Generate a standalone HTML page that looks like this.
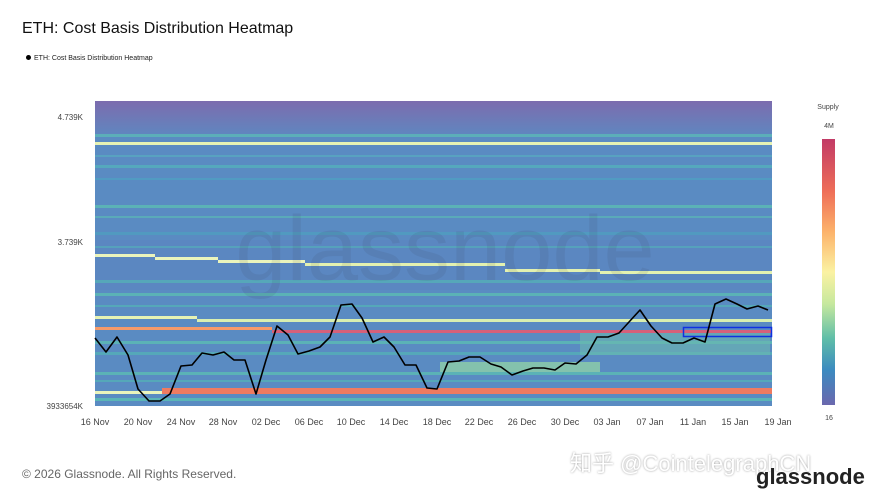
<!DOCTYPE html><html><head><meta charset="utf-8"><style>
body{margin:0;background:#fff;width:889px;height:500px;overflow:hidden;font-family:"Liberation Sans",sans-serif;position:relative}
.t{position:absolute;white-space:nowrap}
</style></head><body>
<div class="t" style="left:22px;top:20px;font-size:16px;color:#111">ETH: Cost Basis Distribution Heatmap</div>
<div class="t" style="left:26px;top:55px;font-size:7px;color:#222"><span style="display:inline-block;width:5px;height:5px;border-radius:50%;background:#000;margin-right:3px"></span>ETH: Cost Basis Distribution Heatmap</div>
<svg width="889" height="500" style="position:absolute;left:0;top:0">
<defs>
<linearGradient id="tg" x1="0" y1="0" x2="0" y2="1"><stop offset="0" stop-color="#7c6cae"/><stop offset="1" stop-color="#5f87c0"/></linearGradient>
<linearGradient id="cb" x1="0" y1="0" x2="0" y2="1"><stop offset="0" stop-color="#c23a66"/><stop offset="0.2" stop-color="#ef6f58"/><stop offset="0.35" stop-color="#fcb36b"/><stop offset="0.5" stop-color="#fbf2a2"/><stop offset="0.62" stop-color="#c6e89e"/><stop offset="0.75" stop-color="#5fbea8"/><stop offset="0.87" stop-color="#3c8ac0"/><stop offset="1" stop-color="#6b68ae"/></linearGradient>
</defs>
<rect x="95" y="101" width="677" height="305" fill="#5a8bc2"/>
<rect x="95" y="101" width="677" height="35" fill="url(#tg)"/>
<rect x="95" y="240" width="677" height="50" fill="#5b86c0" opacity="0.6"/>
<g opacity="0.8">
<rect x="95" y="134" width="677" height="3" fill="#5cb8b8"/>
<rect x="95" y="155" width="677" height="2" fill="#58a8c0"/>
<rect x="95" y="165" width="677" height="3" fill="#55b0bc"/>
<rect x="95" y="178" width="677" height="2" fill="#4fa0c2"/>
<rect x="95" y="205" width="677" height="3" fill="#5cbcb4"/>
<rect x="95" y="216" width="677" height="2" fill="#5ab2b8"/>
<rect x="95" y="232" width="677" height="3" fill="#4f9ec0"/>
<rect x="95" y="246" width="677" height="2" fill="#55a8bc"/>
<rect x="95" y="280" width="677" height="3" fill="#55b0b8"/>
<rect x="95" y="293" width="677" height="3" fill="#5cbcb4"/>
<rect x="95" y="305" width="677" height="2" fill="#55b0b8"/>
<rect x="95" y="341" width="677" height="3" fill="#5cbcb4"/>
<rect x="95" y="352" width="677" height="3" fill="#55b0b8"/>
<rect x="95" y="372" width="677" height="3" fill="#5cbcb4"/>
<rect x="95" y="380" width="677" height="2" fill="#55b0b8"/>
<rect x="95" y="398" width="677" height="3" fill="#5cc0b4"/>
<rect x="440" y="362" width="160" height="10" fill="#8fd0a8"/>
<rect x="580" y="330" width="190" height="25" fill="#70c4ac" opacity="0.6"/>
</g>
<rect x="95" y="142" width="677" height="3" fill="#e6f3b4"/>
<rect x="95" y="254" width="60" height="3" fill="#eaf4bc"/>
<rect x="155" y="257" width="63" height="3" fill="#eaf4bc"/>
<rect x="218" y="260" width="87" height="3" fill="#eaf4bc"/>
<rect x="305" y="263" width="200" height="3" fill="#e3f1b0"/>
<rect x="505" y="269" width="95" height="3" fill="#e3f1b0"/>
<rect x="600" y="271" width="172" height="3" fill="#e3f1b0"/>
<rect x="95" y="316" width="102" height="3" fill="#e6f3b4"/>
<rect x="197" y="319" width="575" height="3" fill="#d9efb0"/>
<rect x="95" y="327" width="177" height="3" fill="#f59a6a"/>
<rect x="272" y="330" width="500" height="3" fill="#d6607a"/>
<rect x="95" y="391" width="67" height="3" fill="#eaf4bc"/>
<rect x="162" y="388" width="610" height="6" fill="#ef7b60"/>
<text x="445" y="280" text-anchor="middle" font-family="Liberation Sans, sans-serif" font-size="92" fill="#334" opacity="0.09">glassnode</text>
<rect x="683.5" y="327.5" width="88" height="9" fill="none" stroke="#1030e0" stroke-width="1.5"/>
<polyline fill="none" stroke="#000" stroke-width="1.6" stroke-linejoin="round" points="95,338 106,352 117,337 128,355 138,389 149,401 160,401 170,394 181,366 192,365 202,353 213,355 224,352 234,360 245,360 256,394 266,360 277,326 288,335 298,354 309,351 320,347 330,337 341,305 352,304 362,318 373,342 384,337 394,347 405,365 416,365 427,388 437,389 448,362 459,361 469,357 480,357 491,364 501,367 512,375 523,371 533,368 544,368 555,370 565,363 576,364 587,355 597,337 608,337 619,333 629,322 640,310 651,326 662,338 672,343 683,343 694,338 705,342 715,304 726,299 737,304 747,309 758,306 768,310"/>
<g font-size="8" fill="#444" font-family="Liberation Sans, sans-serif">
<text x="83" y="120" text-anchor="end">4.739K</text>
<text x="83" y="245" text-anchor="end">3.739K</text>
<text x="83" y="409" text-anchor="end">3933654K</text>
</g>
<g font-size="9" fill="#444" text-anchor="middle" font-family="Liberation Sans, sans-serif">
<text x="95" y="425">16 Nov</text><text x="138" y="425">20 Nov</text><text x="181" y="425">24 Nov</text><text x="223" y="425">28 Nov</text><text x="266" y="425">02 Dec</text><text x="309" y="425">06 Dec</text><text x="351" y="425">10 Dec</text><text x="394" y="425">14 Dec</text><text x="437" y="425">18 Dec</text><text x="479" y="425">22 Dec</text><text x="522" y="425">26 Dec</text><text x="565" y="425">30 Dec</text><text x="607" y="425">03 Jan</text><text x="650" y="425">07 Jan</text><text x="693" y="425">11 Jan</text><text x="735" y="425">15 Jan</text><text x="778" y="425">19 Jan</text>
</g>
<rect x="822" y="139" width="13" height="266" fill="url(#cb)"/>
<text x="828" y="109" font-size="7" fill="#444" text-anchor="middle">Supply</text>
<text x="829" y="128" font-size="7" fill="#444" text-anchor="middle">4M</text>
<text x="829" y="420" font-size="7" fill="#444" text-anchor="middle">16</text>
</svg>
<div class="t" style="left:22px;top:467px;font-size:12px;color:#666">© 2026 Glassnode. All Rights Reserved.</div>
<div class="t" style="left:570px;top:446px;font-size:22px;color:#fff;font-family:'Liberation Sans','Noto Sans CJK SC',sans-serif;text-shadow:0 0 2px #999">知乎 @CointelegraphCN</div>
<div class="t" style="left:756px;top:464px;font-size:22px;color:#222;font-weight:bold">glassnode</div>
</body></html>
